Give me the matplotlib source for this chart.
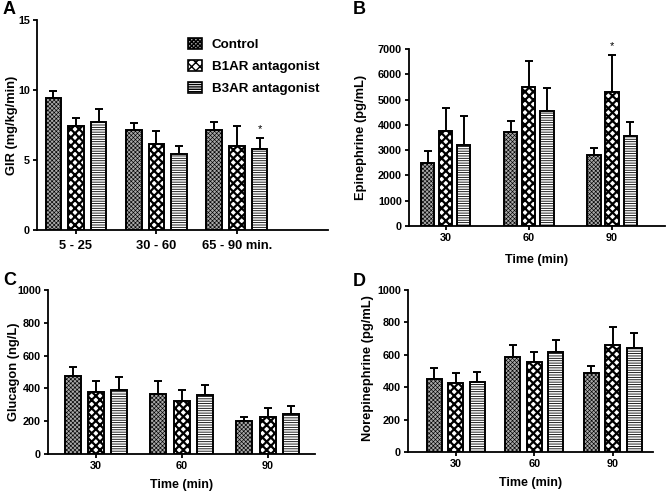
import numpy as np
import matplotlib
matplotlib.use("Agg")
import matplotlib.pyplot as plt
from matplotlib.patches import Patch

plt.rcParams['font.family'] = ['Liberation Sans', 'DejaVu Sans']
plt.rcParams['font.weight'] = 'bold'

# ---- data ----
groups = ["Control", "B1AR antagonist", "B3AR antagonist"]

gir_labels = ["5 - 25", "30 - 60", "65 - 90 min."]
gir_mean = [[9.45, 7.15, 7.17], [7.45, 6.12, 6.02], [7.7, 5.45, 5.76]]
gir_sem = [[0.5, 0.52, 0.52], [0.55, 0.95, 1.43], [0.94, 0.57, 0.84]]

time_labels = ["30", "60", "90"]

epi_mean = [[2500, 3700, 2800], [3740, 5497, 5310], [3216, 4561, 3559]]
epi_sem = [[460, 450, 300], [910, 1030, 1450], [1120, 910, 550]]

glu_mean = [[476, 366, 199], [378, 325, 226], [390, 362, 242]]
glu_sem = [[54, 79, 29], [69, 63, 54], [82, 61, 51]]

nor_mean = [[449, 588, 485], [427, 553, 662], [431, 616, 643]]
nor_sem = [[71, 74, 47], [60, 63, 107], [64, 75, 91]]

# bar styling per group: fine grey checker, coarse checker, horizontal lines
faces = ["#a8a8a8", "white", "white"]
hatches = ["xxxxxxxx", "xxxx", "-------"]
hatch_lw = [0.45, 1.6, 0.6]


def bar_panel(ax, means, sems, xlabels, xlim, width, step, ylim, yticks):
    x = np.arange(len(xlabels))
    for i in range(3):
        pos = x + (i - 1) * step
        with plt.rc_context({'hatch.linewidth': hatch_lw[i]}):
            ax.bar(pos, means[i], width, color=faces[i], edgecolor='black',
                   linewidth=1.4, hatch=hatches[i], zorder=2)
        ax.errorbar(pos, means[i], yerr=[np.zeros(3), sems[i]], fmt='none',
                    ecolor='black', elinewidth=1.4, capsize=2.9, capthick=1.4,
                    zorder=1)
    ax.set_xlim(*xlim)
    ax.set_ylim(*ylim)
    ax.set_yticks(yticks)
    ax.set_xticks(x)
    ax.set_xticklabels(xlabels)
    for s in ['top', 'right']:
        ax.spines[s].set_visible(False)
    for s in ['left', 'bottom']:
        ax.spines[s].set_linewidth(1.3)
    ax.tick_params(axis='both', labelsize=7.8, width=1.3, length=3, pad=2)


fig = plt.figure(figsize=(6.67, 4.93), dpi=100)

axA = fig.add_axes([0.0555, 0.5335, 0.436, 0.426])
axB = fig.add_axes([0.613, 0.5416, 0.384, 0.359])
axC = fig.add_axes([0.072, 0.0791, 0.400, 0.3327])
axD = fig.add_axes([0.6117, 0.0832, 0.367, 0.3286])

bar_panel(axA, gir_mean, gir_sem, gir_labels, (-0.484, 3.13), 0.193, 0.282,
          (0, 15), [0, 5, 10, 15])
axA.tick_params(axis='x', labelsize=9.3, pad=4)
bar_panel(axB, epi_mean, epi_sem, time_labels, (-0.446, 2.638), 0.157, 0.217,
          (0, 7000), range(0, 7001, 1000))
bar_panel(axC, glu_mean, glu_sem, time_labels, (-0.558, 2.547), 0.186, 0.273,
          (0, 1000), range(0, 1001, 200))
bar_panel(axD, nor_mean, nor_sem, time_labels, (-0.611, 2.51), 0.19, 0.274,
          (0, 1000), range(0, 1001, 200))
axB.set_xlabel("Time (min)", fontsize=9, fontweight='bold', labelpad=8)
for ax in [axC, axD]:
    ax.set_xlabel("Time (min)", fontsize=9, fontweight='bold', labelpad=6)

# y labels placed at their centres (pixels from the top-left)
ylabels = ["GIR (mg/kg/min)", "Epinephrine (pg/mL)", "Glucagon (ng/L)",
           "Norepinephrine (pg/mL)"]
ylabel_xy = [(12, 125), (361, 137), (14, 372), (368, 368)]
for txt, (px, py) in zip(ylabels, ylabel_xy):
    fig.text(px / 667, 1 - py / 493, txt, rotation=90, ha='center', va='center',
             fontsize=9.3, fontweight='bold')

# significance markers
axA.text(2 + 0.282, gir_mean[2][2] + gir_sem[2][2] + 0.25, "*", ha='center',
         va='bottom', fontsize=8, fontweight='normal')
axB.text(2, epi_mean[1][2] + epi_sem[1][2] + 150, "*", ha='center',
         va='bottom', fontsize=8, fontweight='normal', clip_on=False)

# legend
handles = []
for i in range(3):
    with plt.rc_context({'hatch.linewidth': hatch_lw[i]}):
        handles.append(Patch(facecolor=faces[i], edgecolor='black', linewidth=1.2,
                             hatch=hatches[i], label=groups[i]))
axA.legend(handles=handles, loc='upper right', bbox_to_anchor=(1.012, 0.97),
           frameon=False, fontsize=9.6, handlelength=1.1, handleheight=0.9,
           handletextpad=0.7, labelspacing=0.65)

# panel letters
for ax_lbl, (px, py) in zip("ABCD", [(3, 14), (353, 14), (3, 285), (353, 286)]):
    fig.text(px / 667, 1 - py / 493, ax_lbl, fontsize=13, fontweight='bold')

fig.savefig("out.png", dpi=100)
